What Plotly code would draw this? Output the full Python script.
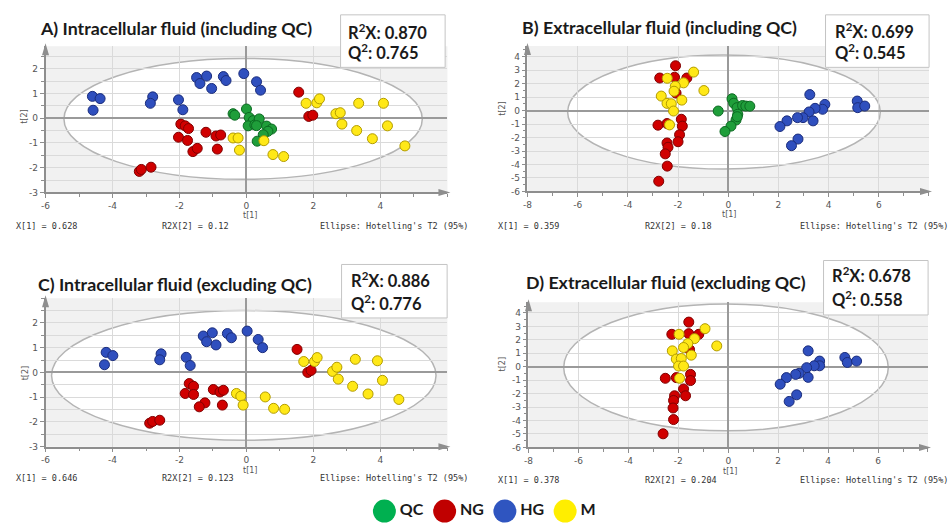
import plotly.graph_objects as go

W, H = 951, 525

# ---------------- data ----------------
GROUPS = ["QC", "NG", "HG", "M"]

# Panel A: Intracellular fluid (including QC)
A_QC_x = [-0.40, -0.35, 0.00, 0.08, 0.20, 0.05, 0.25, 0.38, 0.30, 0.60, 0.75, 0.64, 0.50, 0.32]
A_QC_y = [0.18, 0.12, 0.37, 0.03, -0.10, -0.31, -0.27, -0.03, -0.30, -0.32, -0.44, -0.53, -0.67, -0.93]
A_NG_x = [-1.96, -1.83, -1.73, -2.03, -1.76, -1.60, -1.47, -1.21, -0.91, -0.77, -0.87, -3.20, -3.14, -2.85, 1.56, 1.86, 1.98]
A_NG_y = [-0.24, -0.31, -0.42, -0.77, -0.90, -1.35, -1.22, -0.57, -0.72, -0.68, -1.25, -2.15, -2.07, -1.98, 1.05, 0.07, 0.12]
A_HG_x = [-4.60, -4.37, -4.58, -2.80, -2.87, -2.03, -1.90, -1.49, -1.39, -1.19, -1.04, -0.69, -0.61, -0.08, 0.30, 0.42]
A_HG_y = [0.88, 0.79, 0.32, 0.86, 0.60, 0.74, 0.34, 1.64, 1.40, 1.70, 1.20, 1.68, 1.52, 1.80, 1.47, 1.13]
A_M_x = [-0.40, -0.25, -0.21, 0.52, 0.79, 1.11, 1.78, 2.10, 2.18, 2.67, 2.80, 2.85, 3.29, 3.35, 3.76, 4.09, 4.21, 4.73]
A_M_y = [-0.80, -0.80, -1.29, -0.91, -1.47, -1.55, 0.60, 0.62, 0.78, 0.18, 0.22, -0.24, -0.50, 0.60, -0.83, 0.60, -0.31, -1.12]

# Panel B: Extracellular fluid (including QC)
B_QC_x = [-0.40, 0.15, 0.22, 0.35, 0.57, 0.70, 0.86, 0.38, 0.31, 0.11, -0.13, 0.36]
B_QC_y = [-0.03, 0.88, 0.55, 0.22, 0.38, 0.34, 0.33, -0.27, -0.70, -1.15, -1.55, -0.45]
B_NG_x = [-2.10, -2.73, -2.14, -1.65, -2.08, -2.80, -2.44, -1.87, -1.83, -1.94, -2.00, -2.44, -2.40, -2.51, -2.43, -2.77]
B_NG_y = [3.33, 2.42, 2.48, 2.42, 1.30, -1.08, -0.96, -0.64, -1.15, -1.79, -2.31, -2.40, -2.72, -3.21, -4.12, -5.24]
B_HG_x = [3.25, 3.85, 3.76, 3.46, 3.22, 3.38, 2.98, 2.76, 2.34, 2.06, 2.78, 2.52, 5.14, 5.16, 5.44]
B_HG_y = [1.19, 0.46, 0.10, 0.17, -0.10, -0.76, -0.52, -0.52, -0.76, -1.18, -2.11, -2.60, 0.71, 0.22, 0.34]
B_M_x = [-1.38, -2.43, -1.78, -2.11, -2.16, -0.97, -2.67, -1.85, -2.44, -2.27, -2.18, -2.34]
B_M_y = [2.86, 2.40, 2.06, 1.81, 1.44, 1.49, 1.08, 0.78, 0.54, 0.51, -0.03, -1.06]

# Panel C: Intracellular fluid (excluding QC)
C_NG_x = [-1.71, -1.58, -1.83, -1.58, -0.99, -0.79, -0.69, -1.24, -1.41, -0.72, -2.89, -2.80, -2.59, 1.51, 1.83, 1.93]
C_NG_y = [-0.45, -0.56, -0.85, -0.89, -0.69, -0.79, -0.72, -1.23, -1.39, -1.32, -2.05, -1.98, -1.93, 0.93, 0.00, 0.08]
C_HG_x = [-4.19, -3.99, -4.24, -2.55, -2.59, -1.80, -1.68, -1.29, -1.19, -1.02, -0.91, -0.57, -0.45, 0.02, 0.35, 0.48]
C_HG_y = [0.81, 0.68, 0.31, 0.75, 0.51, 0.61, 0.28, 1.47, 1.24, 1.60, 1.11, 1.57, 1.40, 1.67, 1.33, 1.00]
C_M_x = [-0.30, -0.17, -0.10, 0.56, 0.81, 1.14, 1.71, 2.03, 2.11, 2.57, 2.70, 2.74, 3.17, 3.25, 3.63, 3.91, 4.06, 4.55]
C_M_y = [-0.85, -0.96, -1.32, -0.99, -1.45, -1.49, 0.44, 0.44, 0.60, 0.04, 0.21, -0.27, -0.56, 0.53, -0.87, 0.47, -0.32, -1.09]

# Panel D: Extracellular fluid (excluding QC)
D_NG_x = [-1.58, -2.26, -1.58, -1.18, -1.55, -2.52, -2.08, -1.51, -1.51, -1.79, -1.71, -2.15, -2.19, -2.21, -2.19, -2.61]
D_NG_y = [3.32, 2.41, 2.46, 2.41, 1.28, -0.86, -0.81, -0.57, -1.03, -1.65, -2.16, -2.16, -2.51, -3.07, -3.93, -4.99]
D_HG_x = [3.20, 3.66, 3.66, 3.44, 3.14, 3.20, 2.84, 2.70, 2.33, 2.08, 2.74, 2.44, 4.67, 4.77, 5.14]
D_HG_y = [1.18, 0.42, 0.07, 0.07, -0.07, -0.79, -0.49, -0.57, -0.81, -1.30, -2.09, -2.58, 0.69, 0.32, 0.42]
D_M_x = [-0.93, -1.97, -1.35, -1.62, -1.79, -0.46, -2.24, -1.48, -2.08, -1.88, -1.99, -1.79, -1.95]
D_M_y = [2.83, 2.41, 2.09, 1.72, 1.43, 1.55, 1.18, 0.86, 0.57, 0.61, 0.05, 0.05, -0.86]

# Hotelling's T2 ellipses (centre x, centre y, semi-axis x, semi-axis y)
ELLIPSE_A = [-0.10, -0.03, 5.35, 2.44]
ELLIPSE_B = [-0.17, -0.11, 6.23, 4.23]
ELLIPSE_C = [-0.08, -0.12, 5.74, 2.62]
ELLIPSE_D = [-0.09, -0.05, 6.50, 4.72]

TITLES = ["A) Intracellular fluid (including QC)", "B) Extracellular fluid (including QC)",
          "C) Intracellular fluid (excluding QC)", "D) Extracellular fluid (excluding QC)"]
R2X = ["0.870", "0.699", "0.886", "0.678"]
Q2 = ["0.765", "0.545", "0.776", "0.558"]
FOOT_X1 = ["X[1] = 0.628", "X[1] = 0.359", "X[1] = 0.646", "X[1] = 0.378"]
FOOT_R2X2 = ["R2X[2] = 0.12", "R2X[2] = 0.18", "R2X[2] = 0.123", "R2X[2] = 0.204"]
FOOT_ELLIPSE = "Ellipse: Hotelling's T2 (95%)"

INTRA_XTICKS = [-6, -4, -2, 0, 2, 4]
INTRA_YTICKS = [-3, -2, -1, 0, 1, 2]
EXTRA_XTICKS = [-8, -6, -4, -2, 0, 2, 4, 6]
EXTRA_YTICKS = [-6, -5, -4, -3, -2, -1, 0, 1, 2, 3, 4]

# ---------------- styles ----------------
FILL = {"QC": "#1f9e3a", "NG": "#d00000", "HG": "#2f4fbe", "M": "#ffe817"}
EDGE = {"QC": "#0c6a22", "NG": "#800000", "HG": "#1b2d7c", "M": "#b39c00"}
LEG_FILL = {"QC": "#00b050", "NG": "#c00000", "HG": "#2f55c0", "M": "#ffee00"}

AX_GRAY = "#8e8e8e"
TICK_FONT = dict(family="DejaVu Sans", size=9, color="#555555")
MONO = dict(family="DejaVu Sans Mono", size=8.5, color="#333333")


def fx(p):
    return p / W


def fy(p):
    return 1 - p / H


panels = [
    dict(n="", data={"QC": (A_QC_x, A_QC_y), "NG": (A_NG_x, A_NG_y), "HG": (A_HG_x, A_HG_y), "M": (A_M_x, A_M_y)},
         ell=ELLIPSE_A, xr=[-6, 6], yr=[-3, 2.9], xt=INTRA_XTICKS, yt=INTRA_YTICKS, ygrid_minor=True,
         xdom=[41.7, 445.3], ydom=[46.8, 194.3],
         title=(34, 28), box=(338, 15, 443, 68), boxtxt=(343, 32, 53),
         foot_y=228, foot_x=(10, 157, 315), t1=(247, 218), t2=(21, 118)),
    dict(n="2", data={"QC": (B_QC_x, B_QC_y), "NG": (B_NG_x, B_NG_y), "HG": (B_HG_x, B_HG_y), "M": (B_M_x, B_M_y)},
         ell=ELLIPSE_B, xr=[-8, 8], yr=[-6, 4.8], xt=EXTRA_XTICKS, yt=EXTRA_YTICKS, ygrid_minor=False,
         xdom=[525.7, 928.9], ydom=[46.4, 193.3],
         title=(518, 27), box=(825, 15, 929, 68), boxtxt=(832, 31, 53),
         foot_y=228, foot_x=(494, 642, 797), t1=(728, 217), t2=(501, 110)),
    dict(n="3", data={"NG": (C_NG_x, C_NG_y), "HG": (C_HG_x, C_HG_y), "M": (C_M_x, C_M_y)},
         ell=ELLIPSE_C, xr=[-6, 6], yr=[-3, 3.0], xt=INTRA_XTICKS, yt=INTRA_YTICKS, ygrid_minor=True,
         xdom=[41.7, 445.3], ydom=[301, 451],
         title=(32, 287), box=(339, 267, 445, 321), boxtxt=(346, 283, 306),
         foot_y=483, foot_x=(10, 157, 315), t1=(247, 475), t2=(21, 377)),
    dict(n="4", data={"NG": (D_NG_x, D_NG_y), "HG": (D_HG_x, D_HG_y), "M": (D_M_x, D_M_y)},
         ell=ELLIPSE_D, xr=[-8, 8], yr=[-6, 4.8], xt=EXTRA_XTICKS, yt=EXTRA_YTICKS, ygrid_minor=False,
         xdom=[526.7, 927.9], ydom=[305.1, 451.7],
         title=(522, 285), box=(823, 263, 928, 318), boxtxt=(829, 278, 302),
         foot_y=485, foot_x=(494, 642, 797), t1=(729, 476), t2=(501, 368)),
]

fig = go.Figure()
shapes = []
annotations = []
layout_axes = {}

for i, p in enumerate(panels):
    n = p["n"]
    xa, ya = "x" + n, "y" + n
    # scatter points
    for g in GROUPS:
        if g not in p["data"]:
            continue
        xs, ys = p["data"][g]
        fig.add_trace(go.Scatter(
            x=xs, y=ys, mode="markers", name=g, showlegend=False, hoverinfo="skip",
            marker=dict(size=10, color=FILL[g], line=dict(color=EDGE[g], width=1)),
            xaxis=xa, yaxis=ya, cliponaxis=False))

    xt = p["xt"]
    yt = p["yt"]
    layout_axes["xaxis" + n] = dict(
        domain=[fx(p["xdom"][0]), fx(p["xdom"][1])], range=p["xr"], anchor=ya,
        tickmode="array", tickvals=xt, ticktext=[str(v) for v in xt],
        showgrid=True, gridcolor="#dadada", gridwidth=1,
        zeroline=True, zerolinecolor="#9a9a9a", zerolinewidth=1.5,
        showline=True, linecolor=AX_GRAY, linewidth=1.5,
        ticks="outside", ticklen=4, tickcolor=AX_GRAY, tickfont=TICK_FONT,
        minor=dict(tickmode="linear", tick0=0, dtick=1, ticks="outside", ticklen=3,
                   tickcolor=AX_GRAY, showgrid=False),
        fixedrange=True)
    layout_axes["yaxis" + n] = dict(
        domain=[fy(p["ydom"][1]), fy(p["ydom"][0])], range=p["yr"], anchor=xa,
        tickmode="array", tickvals=yt, ticktext=[str(v) for v in yt],
        showgrid=True, gridcolor="#dadada", gridwidth=1,
        zeroline=True, zerolinecolor="#9a9a9a", zerolinewidth=1.5,
        showline=True, linecolor=AX_GRAY, linewidth=1.5,
        ticks="outside", ticklen=4, tickcolor=AX_GRAY, tickfont=TICK_FONT,
        minor=dict(tickmode="linear", tick0=0, dtick=0.5, ticks="outside", ticklen=2.5,
                   tickcolor=AX_GRAY, showgrid=p["ygrid_minor"], gridcolor="#dadada"),
        fixedrange=True)

    # grey plot background and white ellipse (below gridlines)
    shapes.append(dict(type="rect", xref=xa + " domain", yref=ya + " domain", x0=0, x1=1, y0=0, y1=1,
                       fillcolor="#f1f1f1", line=dict(width=0), layer="below"))
    cx, cy, rx, ry = p["ell"]
    shapes.append(dict(type="circle", xref=xa, yref=ya, x0=cx - rx, x1=cx + rx, y0=cy - ry, y1=cy + ry,
                       fillcolor="white", line=dict(color="#b4b4b4", width=1.5), layer="below"))

    # axis arrow heads (triangles in pixel units, anchored at the axis ends)
    shapes.append(dict(type="path", xref=xa + " domain", yref=ya + " domain",
                       xsizemode="pixel", ysizemode="pixel", xanchor=1, yanchor=0,
                       path="M 3,0 L -9,3.5 L -9,-3.5 Z", fillcolor=AX_GRAY,
                       line=dict(width=0), layer="above"))
    shapes.append(dict(type="path", xref=xa + " domain", yref=ya + " domain",
                       xsizemode="pixel", ysizemode="pixel", xanchor=0, yanchor=1,
                       path="M 0,3 L -3.5,-9 L 3.5,-9 Z", fillcolor=AX_GRAY,
                       line=dict(width=0), layer="above"))

    # panel title
    tx, ty = p["title"]
    annotations.append(dict(xref="paper", yref="paper", x=fx(tx), y=fy(ty), xanchor="left", yanchor="middle",
                            text=TITLES[i], showarrow=False,
                            font=dict(family="Lato", size=17.8, color="#1a1a1a", weight="bold")))
    # R2X / Q2 box
    bx0, by0, bx1, by1 = p["box"]
    shapes.append(dict(type="rect", xref="paper", yref="paper", x0=fx(bx0), x1=fx(bx1), y0=fy(by1), y1=fy(by0),
                       fillcolor="white", line=dict(color="#c4c4c4", width=1), layer="above"))
    lx, l1, l2 = p["boxtxt"]
    annotations.append(dict(xref="paper", yref="paper", x=fx(lx), y=fy(l1), xanchor="left", yanchor="middle",
                            text="R<sup>2</sup>X: " + R2X[i], showarrow=False,
                            font=dict(family="Lato", size=16.5, color="#1a1a1a", weight="bold")))
    annotations.append(dict(xref="paper", yref="paper", x=fx(lx), y=fy(l2), xanchor="left", yanchor="middle",
                            text="Q<sup>2</sup>: " + Q2[i], showarrow=False,
                            font=dict(family="Lato", size=16.5, color="#1a1a1a", weight="bold")))
    # footers
    fy_ = p["foot_y"]
    for txt, fxp in zip([FOOT_X1[i], FOOT_R2X2[i], FOOT_ELLIPSE], p["foot_x"]):
        annotations.append(dict(xref="paper", yref="paper", x=fx(fxp), y=fy(fy_), xanchor="left",
                                yanchor="middle", text=txt, showarrow=False, font=MONO))
    # axis titles
    t1x, t1y = p["t1"]
    annotations.append(dict(xref="paper", yref="paper", x=fx(t1x), y=fy(t1y), xanchor="center",
                            yanchor="middle", text="t[1]", showarrow=False,
                            font=dict(family="DejaVu Sans", size=8, color="#555555")))
    t2x, t2y = p["t2"]
    annotations.append(dict(xref="paper", yref="paper", x=fx(t2x), y=fy(t2y), xanchor="center",
                            yanchor="middle", text="t[2]", showarrow=False, textangle=-90,
                            font=dict(family="DejaVu Sans", size=8, color="#555555")))

# ---------------- bottom legend (drawn from GROUPS) ----------------
LEG_SPACING = 60.5
LEG_X0 = 382
fig.add_trace(go.Scatter(
    x=list(range(len(GROUPS))), y=[0] * len(GROUPS), mode="markers+text",
    text=GROUPS, textposition="middle right",
    textfont=dict(family="Lato", size=16, color="#1a1a1a", weight="bold"),
    marker=dict(size=23, color=[LEG_FILL[g] for g in GROUPS], line=dict(width=0)),
    xaxis="x5", yaxis="y5", showlegend=False, hoverinfo="skip", cliponaxis=False))
layout_axes["xaxis5"] = dict(domain=[0, 1], range=[-LEG_X0 / LEG_SPACING, (W - LEG_X0) / LEG_SPACING],
                             visible=False, anchor="y5", fixedrange=True)
layout_axes["yaxis5"] = dict(domain=[fy(525), fy(507)], range=[-1, 1], visible=False, anchor="x5",
                             fixedrange=True)

fig.update_layout(
    width=W, height=H, margin=dict(l=0, r=0, t=0, b=0),
    paper_bgcolor="white", plot_bgcolor="rgba(0,0,0,0)",
    shapes=shapes, annotations=annotations, showlegend=False,
    **layout_axes)

fig.write_html("out.html", config={"displayModeBar": False},
               post_script="document.body.style.margin='0';")
